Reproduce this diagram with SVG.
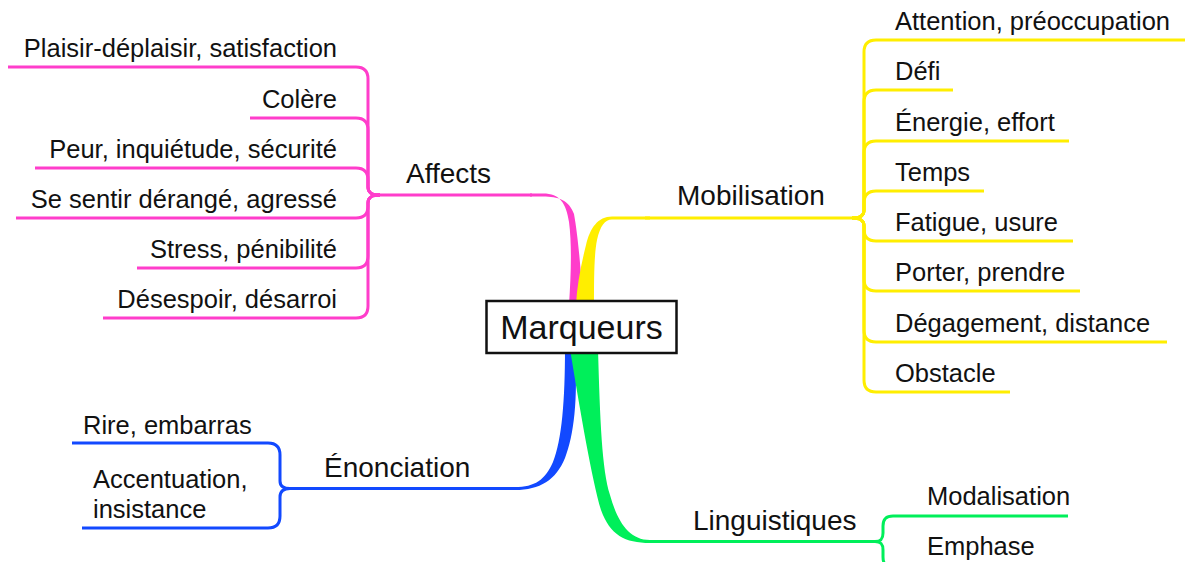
<svg xmlns="http://www.w3.org/2000/svg" width="1187" height="562" viewBox="0 0 1187 562">
<style>
text{font-family:"Liberation Sans",Arial,sans-serif;fill:#111}
.leaf{font-size:25.5px}
.branch{font-size:28px}
.end{text-anchor:end}
.ln{fill:none;stroke-width:3;stroke-linecap:butt;stroke-linejoin:round}
.pk{stroke:#ff3dcb}.yl{stroke:#ffee00}.bl{stroke:#1249ff}.gr{stroke:#00ef5a}
</style>
<rect width="1187" height="562" fill="#fff"/>
<g id="connectors">
  <!-- main tapered branches -->
  <path d="M530,193.5 L543,193.5 C560,193.5 566,203 569,222 C572,245 571,275 569,305 L583,305 C581,270 578,236 574,214 C569,200 558,196.5 543,196.5 L530,196.5 Z" fill="#ff3dcb"/>
  <line class="ln pk" x1="380" y1="195" x2="532" y2="195"/>
  <path d="M650,216.5 L612,216.5 C598,216.5 590,228 586,245 C581,265 577,285 576,305 L594,305 C594,280 594,255 597,240 C600,226 605,219.5 612,219.5 L650,219.5 Z" fill="#ffee00"/>
  <line class="ln yl" x1="645" y1="218" x2="852" y2="218"/>
  <path d="M565,349 C565,400 562,440 553,462 C545,480 535,487 515,487 L515,490 C540,490 556,480 565,458 C574,435 578,400 575,349 Z" fill="#1249ff"/>
  <line class="ln bl" x1="290" y1="488.5" x2="520" y2="488.5"/>
  <path d="M570,349 L598,349 C600,420 602,470 610,495 C617,520 628,540 650,540 L650,543 C625,543 610,535 601,510 C592,480 580,410 570,349 Z" fill="#00ef5a"/>
  <line class="ln gr" x1="645" y1="541.5" x2="875" y2="541.5"/>
  <!-- Affects leaves -->
  <path class="ln pk" d="M8,67 H356 C364,67 368,71 368,79 V187 C368,193 372,195 380,195"/>
  <path class="ln pk" d="M250,118 H356 C364,118 368,122 368,130 V187 C368,193 372,195 380,195"/>
  <path class="ln pk" d="M35,168 H356 C364,168 368,172 368,180 V187 C368,193 372,195 380,195"/>
  <path class="ln pk" d="M16,218 H356 C364,218 368,214 368,206 V203 C368,197 372,195 380,195"/>
  <path class="ln pk" d="M137,268 H356 C364,268 368,264 368,256 V203 C368,197 372,195 380,195"/>
  <path class="ln pk" d="M103,318 H356 C364,318 368,314 368,306 V203 C368,197 372,195 380,195"/>
  <!-- Mobilisation leaves -->
  <path class="ln yl" d="M852,218 C860,218 864,216 864,210 V52 C864,44 868,40 876,40 H1185"/>
  <path class="ln yl" d="M852,218 C860,218 864,216 864,210 V102 C864,94 868,90 876,90 H953"/>
  <path class="ln yl" d="M852,218 C860,218 864,216 864,210 V153 C864,145 868,141 876,141 H1069"/>
  <path class="ln yl" d="M852,218 C860,218 864,216 864,210 V203 C864,195 868,191 876,191 H984"/>
  <path class="ln yl" d="M852,218 C860,218 864,220 864,226 V229 C864,237 868,241 876,241 H1073"/>
  <path class="ln yl" d="M852,218 C860,218 864,220 864,226 V279 C864,287 868,291 876,291 H1080"/>
  <path class="ln yl" d="M852,218 C860,218 864,220 864,226 V330 C864,338 868,342 876,342 H1167"/>
  <path class="ln yl" d="M852,218 C860,218 864,220 864,226 V380 C864,388 868,392 876,392 H1010"/>
  <!-- Énonciation leaves -->
  <path class="ln bl" d="M72,443 H268 C276,443 280,447 280,455 V481 C280,487 284,488.5 290,488.5"/>
  <path class="ln bl" d="M82,528 H268 C276,528 280,524 280,516 V497 C280,491 284,488.5 290,488.5"/>
  <!-- Linguistiques leaves -->
  <path class="ln gr" d="M875,541.5 C881,541.5 883,539 883,533 V526 C883,519 886,516 893,516 H1068"/>
  <path class="ln gr" d="M875,541.5 C881,541.5 883,544 883,550 V557 C883,564 886,567 893,567 H1000"/>
</g>
<g id="center">
  <rect x="486.5" y="301" width="190" height="52" fill="#fff" stroke="#111" stroke-width="2.5"/>
  <text x="581.5" y="339" text-anchor="middle" font-size="34">Marqueurs</text>
</g>
<g id="affects"><text class="branch" x="406" y="183">Affects</text></g>
<g id="mobilisation"><text class="branch" x="677" y="205">Mobilisation</text></g>
<g id="enonciation"><text class="branch" x="324" y="477">Énonciation</text></g>
<g id="linguistiques"><text class="branch" x="693" y="530">Linguistiques</text></g>
<g id="affects-leaves">
  <text class="leaf end" x="337" y="57">Plaisir-déplaisir, satisfaction</text>
  <text class="leaf end" x="337" y="108">Colère</text>
  <text class="leaf end" x="337" y="158">Peur, inquiétude, sécurité</text>
  <text class="leaf end" x="337" y="208">Se sentir dérangé, agressé</text>
  <text class="leaf end" x="337" y="258">Stress, pénibilité</text>
  <text class="leaf end" x="337" y="308">Désespoir, désarroi</text>
</g>
<g id="mobilisation-leaves">
  <text class="leaf" x="895" y="30">Attention, préoccupation</text>
  <text class="leaf" x="895" y="80">Défi</text>
  <text class="leaf" x="895" y="131">Énergie, effort</text>
  <text class="leaf" x="895" y="181">Temps</text>
  <text class="leaf" x="895" y="231">Fatigue, usure</text>
  <text class="leaf" x="895" y="281">Porter, prendre</text>
  <text class="leaf" x="895" y="332">Dégagement, distance</text>
  <text class="leaf" x="895" y="382">Obstacle</text>
</g>
<g id="enonciation-leaves">
  <text class="leaf" x="83" y="434">Rire, embarras</text>
  <text class="leaf" x="93" y="488">Accentuation,</text>
  <text class="leaf" x="93" y="518">insistance</text>
</g>
<g id="linguistiques-leaves">
  <text class="leaf" x="927" y="505">Modalisation</text>
  <text class="leaf" x="927" y="555">Emphase</text>
</g>
</svg>
